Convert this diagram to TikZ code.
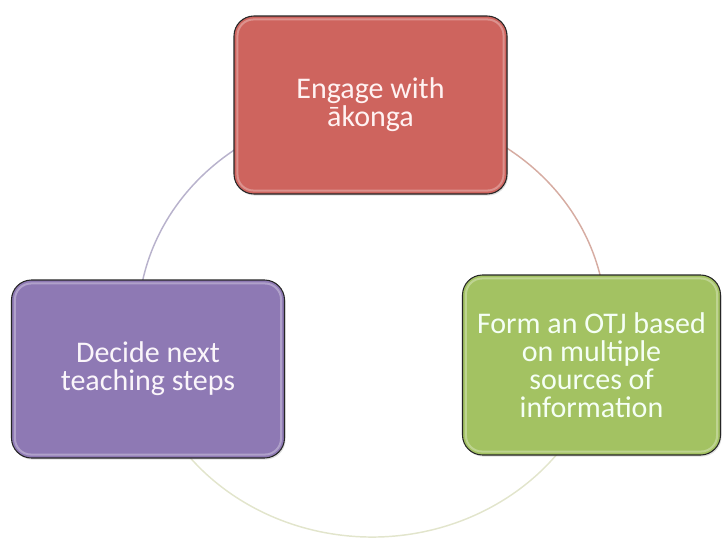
\documentclass[tikz,border=0pt]{standalone}
\usepackage{fontspec}
\setmainfont{Carlito}
\usetikzlibrary{shadows}

\definecolor{engagefill}{RGB}{206,100,94}
\definecolor{formfill}{RGB}{163,194,98}
\definecolor{decidefill}{RGB}{142,121,180}
\definecolor{arcleft}{RGB}{184,178,204}
\definecolor{arcright}{RGB}{214,172,162}
\definecolor{arcbottom}{RGB}{226,229,204}

\begin{document}
\begin{tikzpicture}[x=0.75pt, y=-0.75pt,
    box/.style={draw=black!85, line width=0.8pt, rounded corners=15pt, align=center,
      minimum width=204.75pt, minimum height=133.5pt,
      font=\fontsize{22.5}{21}\selectfont,
      drop shadow={opacity=0.25, shadow xshift=0.8pt, shadow yshift=-1.2pt}},
    shine/.style={white, opacity=0.3, line width=1.5pt, rounded corners=12pt},
    link/.style={line width=1.1pt}]
  \useasboundingbox (0,0) rectangle (723,540);

  % the cycle runs behind the three boxes
  \coordinate (c) at (372,323);
  \draw[link, arcleft] (c) ++(165:234 and 214)
    arc[start angle=165, end angle=270, x radius=234, y radius=214];
  \draw[link, arcright] (c) ++(270:234 and 214)
    arc[start angle=270, end angle=373, x radius=234, y radius=214];
  \draw[link, arcbottom] (c) ++(13:234 and 214)
    arc[start angle=13, end angle=165, x radius=234, y radius=214];

  \node[box, fill=engagefill, text=red!5] (1) at (370.5,105) {Engage with\\ākonga};
  \node[box, fill=formfill, text=green!4, minimum width=193.5pt, minimum height=135pt]
    (2) at (591.5,365) {Form an OTJ based\\on multiple\\sources of\\information};
  \node[box, fill=decidefill, text=violet!4] (3) at (148,369) {Decide next\\teaching steps};

  % soft bevel inside each box
  \foreach \n in {1,2,3}
    \draw[shine] ([shift={(4,4)}]\n.north west) rectangle ([shift={(-4,-4)}]\n.south east);
\end{tikzpicture}
\end{document}
